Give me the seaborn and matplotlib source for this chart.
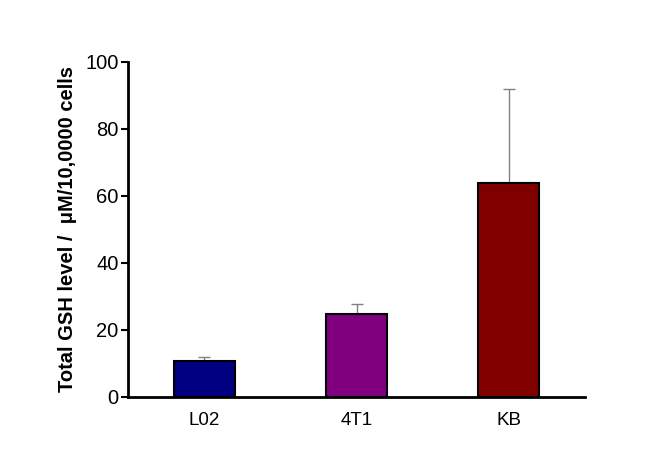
import matplotlib
matplotlib.use("Agg")
import matplotlib.pyplot as plt
import seaborn as sns
import numpy as np
import pandas as pd

categories = ["L02", "4T1", "KB"]
values = [10.7, 24.7, 63.8]
errors = [1.3, 3.1, 28.1]
colors = ["#000080", "#800080", "#800000"]
yticks = [0, 20, 40, 60, 80, 100]

sns.set_theme(style="white")
plt.rcParams["font.family"] = ["Liberation Sans", "DejaVu Sans"]
plt.rcParams["text.color"] = "black"
plt.rcParams["axes.labelcolor"] = "black"
plt.rcParams["xtick.color"] = "black"
plt.rcParams["ytick.color"] = "black"

df = pd.DataFrame({"cell": categories, "gsh": values})

fig = plt.figure(figsize=(6.64, 4.62), dpi=100)
ax = fig.add_axes([0.193, 0.141, 0.688, 0.725])

sns.barplot(data=df, x="cell", y="gsh", hue="cell", palette=colors, legend=False,
            width=0.4, edgecolor="black", linewidth=1.5, saturation=1, ax=ax, zorder=2)

x = np.arange(len(categories))
ax.errorbar(x, values, yerr=[np.zeros(len(errors)), errors], fmt="none",
            ecolor="#808080", elinewidth=1, capsize=4, capthick=1, zorder=1)

ax.set_xlim(-0.5, 2.5)
ax.set_ylim(0, 100)
ax.set_yticks(yticks)
ax.set_yticklabels([str(t) for t in yticks], fontsize=14.5)
ax.tick_params(axis="x", labelsize=13.5, length=0, pad=11)
ax.tick_params(axis="y", direction="out", length=5, width=1.5, left=True, pad=2)
ax.set_xlabel("")
ax.set_ylabel("Total GSH level /  μM/10,0000 cells", fontsize=14.5, fontweight="bold", labelpad=6)

for s in ["top", "right"]:
    ax.spines[s].set_visible(False)
for s in ["left", "bottom"]:
    ax.spines[s].set_linewidth(2)
    ax.spines[s].set_color("black")

fig.savefig("out.png", dpi=100)
